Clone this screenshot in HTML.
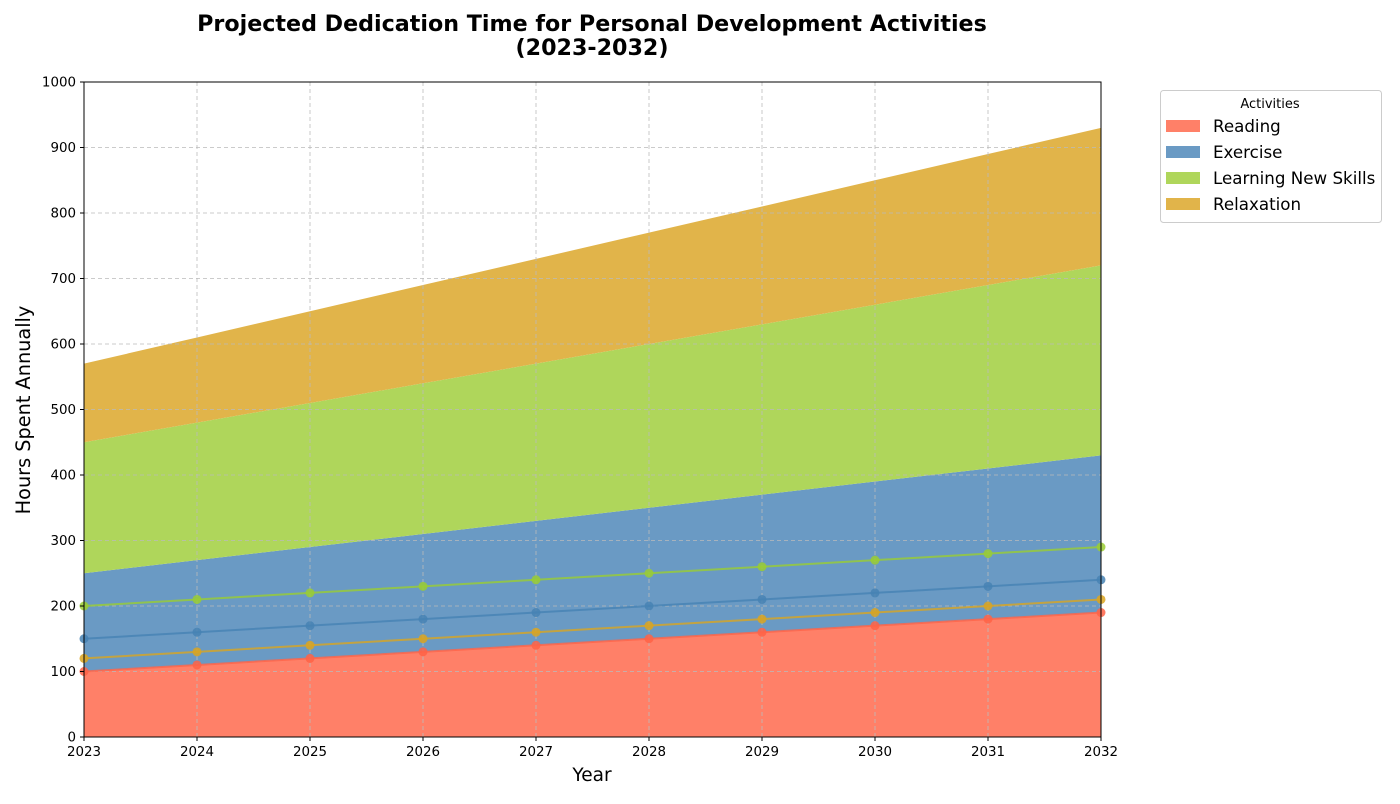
<!DOCTYPE html>
<html><head><meta charset="utf-8"><style>
body{margin:0;background:#fff;font-family:"DejaVu Sans","Liberation Sans",sans-serif;}
svg text{font-family:"DejaVu Sans","Liberation Sans",sans-serif;}
</style></head><body>
<svg id="chart" width="1400" height="800" xmlns="http://www.w3.org/2000/svg">
<text x="592" y="31" text-anchor="middle" font-size="22.2" font-weight="bold">Projected Dedication Time for Personal Development Activities</text>
<text x="592" y="55" text-anchor="middle" font-size="22.2" font-weight="bold">(2023-2032)</text>
<g id="areas"></g><g id="grid"></g><g id="lines"></g>
<rect x="84" y="82" width="1017" height="655" fill="none" stroke="#000" stroke-width="1"/>
<g id="axes" font-size="13.4"></g>
<text x="592" y="781" text-anchor="middle" font-size="18.5">Year</text>
<text transform="translate(30,410) rotate(-90)" text-anchor="middle" font-size="19.3">Hours Spent Annually</text>
<g id="legend">
<rect x="1160.5" y="90.5" width="221" height="132" rx="3" fill="#fff" stroke="#ccc"/>
<text x="1270" y="108" text-anchor="middle" font-size="13">Activities</text>
</g>
</svg>
<script>
const years=[2023,2024,2025,2026,2027,2028,2029,2030,2031,2032];
const seriesNames=["Reading","Exercise","Learning New Skills","Relaxation"];
const reading=[100,110,120,130,140,150,160,170,180,190];
const exercise=[150,160,170,180,190,200,210,220,230,240];
const learning=[200,210,220,230,240,250,260,270,280,290];
const relaxation=[120,130,140,150,160,170,180,190,200,210];
const yTicks=[0,100,200,300,400,500,600,700,800,900,1000];
const NS="http://www.w3.org/2000/svg";
const X=y=>84+(y-2023)/(2032-2023)*1017;
const Y=v=>737-v/1000*655;
const fills=["#ff8068","#6a9ac4","#afd65b","#e1b44a"];
const strokes=["#ff6347","#4682b4","#9acd32","#daa520"];
const slugs=["reading","exercise","learning-new-skills","relaxation"];
const data=[reading,exercise,learning,relaxation];
function mk(t,a,p){const e=document.createElementNS(NS,t);for(const k in a)e.setAttribute(k,a[k]);p.appendChild(e);return e;}
const areas=document.getElementById('areas'),lines=document.getElementById('lines'),grid=document.getElementById('grid'),axes=document.getElementById('axes'),legend=document.getElementById('legend');
let base=years.map(()=>0);
data.forEach((s,i)=>{
 const top=s.map((v,j)=>base[j]+v);
 let d=years.map((y,j)=>(j?'L':'M')+X(y)+','+Y(top[j])).join('')+years.slice().reverse().map((y,k)=>{const j=years.length-1-k;return 'L'+X(y)+','+Y(base[j]);}).join('')+'Z';
 const p=mk('path',{d:d,fill:fills[i]},areas);
 
 
 base=top;
});
yTicks.forEach(t=>{
 const l=mk('line',{x1:84,x2:1101,y1:Y(t),y2:Y(t),stroke:'#bbb','stroke-dasharray':'4,3','stroke-width':0.8},grid);
 
 
 mk('line',{x1:80,x2:84,y1:Y(t),y2:Y(t),stroke:'#000'},axes);
 const tx=mk('text',{x:76,y:Y(t)+4.5,'text-anchor':'end'},axes);tx.textContent=t;
 
 
});
years.forEach(y=>{
 const l=mk('line',{x1:X(y),x2:X(y),y1:82,y2:737,stroke:'#bbb','stroke-dasharray':'4,3','stroke-width':0.8},grid);
 
 
 mk('line',{x1:X(y),x2:X(y),y1:737,y2:741,stroke:'#000'},axes);
 const tx=mk('text',{x:X(y),y:756,'text-anchor':'middle'},axes);tx.textContent=y;
 
 
});
data.forEach((s,i)=>{
 const pl=mk('polyline',{points:years.map((y,j)=>X(y)+','+Y(s[j])).join(' '),fill:'none',stroke:strokes[i],'stroke-width':2,opacity:0.8},lines);
 
 
 years.forEach((y,j)=>{
  const c=mk('circle',{cx:X(y),cy:Y(s[j]),r:4.5,fill:strokes[i],opacity:0.85},lines);
  
  
 });
});
seriesNames.forEach((n,i)=>{
 const yy=127+i*26;
 const r=mk('rect',{x:1166,y:yy-7,width:34,height:12,fill:fills[i]},legend);
 
 
 const t=mk('text',{x:1213,y:yy+5,'font-size':16.7},legend);t.textContent=n;
 
 
});
</script>
</body></html>
